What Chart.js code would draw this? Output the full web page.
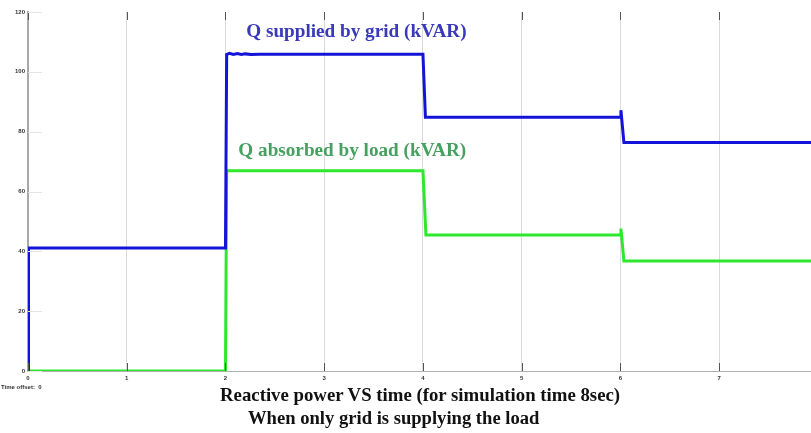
<!DOCTYPE html>
<html>
<head>
<meta charset="utf-8">
<script src="https://cdn.jsdelivr.net/npm/chart.js@4.4.1/dist/chart.umd.min.js"></script>
<style>
  html, body { margin: 0; padding: 0; background: #ffffff; }
  #wrap { position: relative; width: 811px; height: 433px; overflow: hidden; background: #ffffff; }
  #plot { position: absolute; left: 0; top: 0; }
  .cap { position: absolute; font-family: "Liberation Serif", "DejaVu Serif", serif; font-weight: bold; color: #111; white-space: nowrap; }
  #offset { position: absolute; left: 1px; top: 384px; font: bold 6px "Liberation Sans", Arial, sans-serif; color: #333; }
</style>
</head>
<body>
<div id="wrap">
  <canvas id="plot" width="811" height="390"></canvas>
  <div id="offset">Time offset:&nbsp;&nbsp;0</div>
  <div class="cap" id="cap1" style="left:220px; top:384px; font-size:18.8px;">Reactive power VS time (for simulation time 8sec)</div>
  <div class="cap" id="cap2" style="left:248px; top:407px; font-size:18.6px;">When only grid is supplying the load</div>
</div>
<script>
// Simulation time (s) and reactive power (kVAR) samples for each signal
const gridTime = [0, 0.005, 2.0, 2.012, 2.04, 2.08, 2.12, 2.16, 2.2, 2.26, 2.34, 4.0, 4.025, 6.0, 6.005, 6.035, 7.93];
const gridQ    = [0, 41.1, 41.1, 105.8, 106.2, 105.8, 106.1, 105.8, 106.0, 105.8, 105.9, 105.9, 84.8, 84.8, 87.2, 76.4, 76.4];

const loadTime = [0, 2.0, 2.012, 4.0, 4.03, 6.0, 6.005, 6.035, 7.93];
const loadQ    = [0, 0, 66.9, 66.9, 45.5, 45.5, 47.6, 36.8, 36.8];

const xTicks = [0, 1, 2, 3, 4, 5, 6, 7];
const yTicks = [0, 20, 40, 60, 80, 100, 120];

const seriesLabels = ["Q supplied by grid (kVAR)", "Q absorbed by load (kVAR)"];
// label anchor points in data units (time, kVAR)
const labelAnchors = [[2.21, 111.7], [2.13, 71.9]];

const toPoints = (t, q) => t.map((v, i) => ({ x: v, y: q[i] }));

// in-plot tick marks at the top and bottom of each vertical grid line
const tickMarks = {
  id: 'tickMarks',
  afterDraw(chart) {
    const { ctx, chartArea: a, scales: { x, y } } = chart;
    ctx.save();
    ctx.strokeStyle = '#555';
    ctx.lineWidth = 1;
    xTicks.forEach(v => {
      const px = Math.round(x.getPixelForValue(v)) + 0.5;
      ctx.beginPath();
      ctx.moveTo(px, a.bottom); ctx.lineTo(px, a.bottom - 8);
      ctx.moveTo(px, a.top); ctx.lineTo(px, a.top + 8);
      ctx.stroke();
    });
    ctx.strokeStyle = '#e4e4e4';
    yTicks.forEach(v => {
      const py = Math.round(y.getPixelForValue(v)) + 0.5;
      ctx.beginPath();
      ctx.moveTo(a.left, py); ctx.lineTo(a.left + 14, py);
      ctx.stroke();
    });
    // series captions
    const colors = ['#3a3ab8', '#46a060'];
    ctx.font = 'bold 19.2px "Liberation Serif", "DejaVu Serif", serif';
    ctx.textAlign = 'left';
    ctx.textBaseline = 'alphabetic';
    seriesLabels.forEach((s, i) => {
      ctx.fillStyle = colors[i];
      ctx.fillText(s, x.getPixelForValue(labelAnchors[i][0]), y.getPixelForValue(labelAnchors[i][1]));
    });
    ctx.restore();
  }
};

new Chart(document.getElementById('plot'), {
  type: 'line',
  data: {
    datasets: [
      {
        label: seriesLabels[0],
        data: toPoints(gridTime, gridQ),
        borderColor: '#1414d8',
        borderWidth: 3,
        pointRadius: 0,
        tension: 0,
        fill: false
      },
      {
        label: seriesLabels[1],
        data: toPoints(loadTime, loadQ),
        borderColor: '#2ee82e',
        borderWidth: 3,
        pointRadius: 0,
        tension: 0,
        fill: false
      }
    ]
  },
  options: {
    responsive: false,
    animation: false,
    layout: { padding: { top: 12, right: 0, left: 0, bottom: 0 } },
    plugins: {
      legend: { display: false },
      tooltip: { enabled: false },
      title: { display: false }
    },
    scales: {
      x: {
        type: 'linear',
        min: 0,
        max: 7.93,
        afterBuildTicks: s => { s.ticks = xTicks.map(v => ({ value: v })); },
        afterFit: s => { s.height = 19; },
        ticks: {
          font: { size: 6, family: '"Liberation Sans", Arial, sans-serif', weight: 'bold' },
          color: '#333',
          padding: 4,
          maxRotation: 0,
          autoSkip: false
        },
        grid: { color: '#dadada', lineWidth: 1, drawTicks: false },
        border: { display: true, color: '#b0b0b0', width: 1 }
      },
      y: {
        type: 'linear',
        min: 0,
        max: 120,
        afterBuildTicks: s => { s.ticks = yTicks.map(v => ({ value: v })); },
        afterFit: s => { s.width = 28; },
        ticks: {
          font: { size: 6, family: '"Liberation Sans", Arial, sans-serif', weight: 'bold' },
          color: '#333',
          padding: 3
        },
        grid: { display: false, drawTicks: false },
        border: { display: true, color: '#a8a8a8', width: 2 }
      }
    }
  },
  plugins: [tickMarks]
});
</script>
</body>
</html>
